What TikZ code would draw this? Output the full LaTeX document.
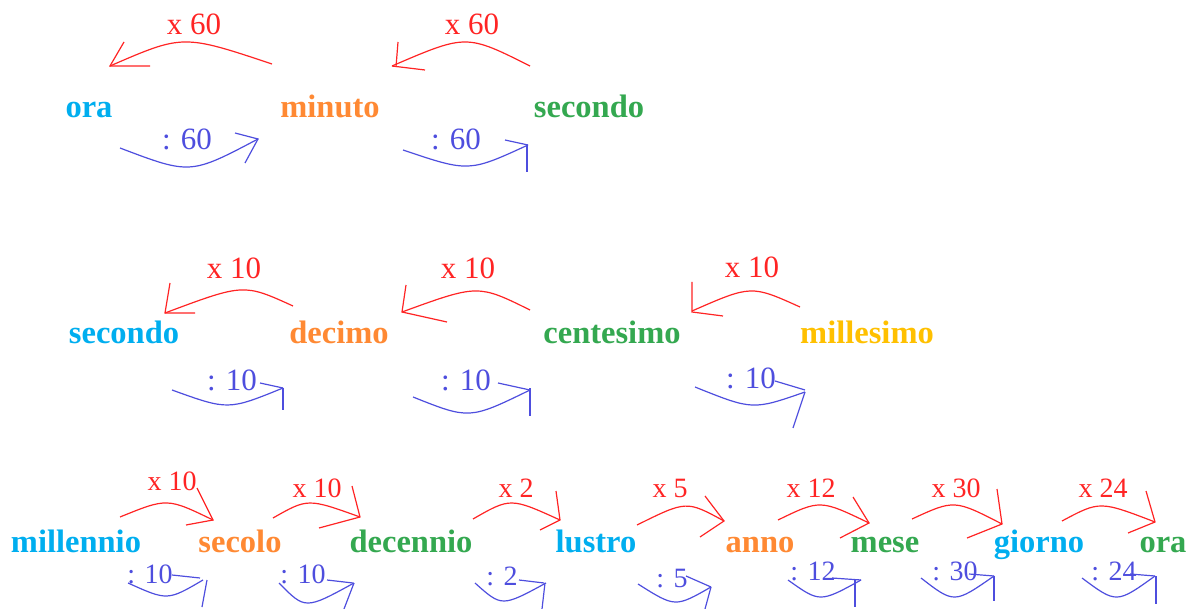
\documentclass[tikz,border=0pt]{standalone}
\usepackage{fontspec}
\setmainfont{Liberation Serif}
\definecolor{wblue}{RGB}{0,174,239}
\definecolor{worange}{RGB}{255,137,51}
\definecolor{wgreen}{RGB}{52,168,80}
\definecolor{wyellow}{RGB}{255,192,0}
\definecolor{lred}{RGB}{255,36,36}
\definecolor{lblue}{RGB}{78,78,222}
\begin{document}
\begin{tikzpicture}[x={(1pt,0pt)},y={(0pt,-1pt)},
  word/.style={font=\fontsize{32.5}{32.5}\selectfont\bfseries, inner sep=0pt, anchor=base},
  lab/.style={font=\fontsize{31}{31}\selectfont, inner sep=0pt, anchor=base},
  slab/.style={font=\fontsize{28}{28}\selectfont, inner sep=0pt, anchor=base},
  rl/.style={draw=lred, line width=1.2pt},
  bl/.style={draw=lblue, line width=1.2pt}]
\useasboundingbox (0,0) rectangle (1193,609);
% ---------- row 1 ----------
\node[word, text=wblue]   (ora1)    at (89,118)  {ora};
\node[word, text=worange] (minuto)  at (330,118) {minuto};
\node[word, text=wgreen]  (sec1)    at (589,118) {secondo};
\node[lab, text=lred]  (l1a) at (194,35) {x 60};
\node[lab, text=lred]  (l1b) at (472,35) {x 60};
\node[lab, text=lblue] (l1c) at (187,150) {: 60};
\node[lab, text=lblue] (l1d) at (456,150) {: 60};
\draw[rl] (272,64) .. controls (183,34.3) .. (110,66);
\draw[rl] (124,42) -- (110,66) -- (150,66);
\draw[rl] (530,66) .. controls (466.3,34) .. (392,66);
\draw[rl] (398,42) -- (396,67); \draw[rl] (392,66) -- (425,70);
\draw[bl] (120,148) .. controls (190.3,174.7) .. (258,139);
\draw[bl] (235,133) -- (258,139) -- (245,163);
\draw[bl] (403,150) .. controls (468.8,172.2) .. (528,145);
\draw[bl] (505,140) -- (528,145); \draw[bl] (527,145) -- (527,172);
% ---------- row 2 ----------
\node[word, text=wblue]   (sec2)  at (124,343) {secondo};
\node[word, text=worange] (dec)   at (339,343) {decimo};
\node[word, text=wgreen]  (cent)  at (612,343) {centesimo};
\node[word, text=wyellow] (mill)  at (867,343) {millesimo};
\node[lab, text=lred]  (l2a) at (234,279) {x 10};
\node[lab, text=lred]  (l2b) at (468,279) {x 10};
\node[lab, text=lred]  (l2c) at (752,278) {x 10};
\node[lab, text=lblue] (l2d) at (232,390) {: 10};
\node[lab, text=lblue] (l2e) at (466,390) {: 10};
\node[lab, text=lblue] (l2f) at (751,388) {: 10};
\draw[rl] (293,306) .. controls (243.7,283.5) .. (165,313);
\draw[rl] (170,283) -- (165,313) -- (195,313);
\draw[rl] (530,310) .. controls (478,284.3) .. (402,312);
\draw[rl] (406,285) -- (402,312) -- (447,322);
\draw[rl] (800,307) .. controls (751.3,285) .. (692,311);
\draw[rl] (692,282) -- (692,312) -- (723,316);
\draw[bl] (172,390) .. controls (228.2,410.3) .. (283,388);
\draw[bl] (260,383) -- (283,388); \draw[bl] (283,388) -- (283,410);
\draw[bl] (413,397) .. controls (469.5,419.5) .. (530,390);
\draw[bl] (498,383) -- (530,390); \draw[bl] (530,388) -- (530,416);
\draw[bl] (695,387) .. controls (752.7,410.2) .. (805,392);
\draw[bl] (775,381) -- (805,390); \draw[bl] (805,392) -- (793,428);
% ---------- row 3 ----------
\node[word, text=wblue]   (mln)   at (76,552)   {millennio};
\node[word, text=worange] (scl)   at (240,552)  {secolo};
\node[word, text=wgreen]  (dcn)   at (411,552)  {decennio};
\node[word, text=wblue]   (lus)   at (596,552)  {lustro};
\node[word, text=worange] (anno)  at (760,552)  {anno};
\node[word, text=wgreen]  (mese)  at (885,552)  {mese};
\node[word, text=wblue]   (gio)   at (1039,552) {giorno};
\node[word, text=wgreen]  (ora2)  at (1163,552) {ora};
\node[slab, text=lred] (r3a) at (172,490)  {x 10};
\node[slab, text=lred] (r3b) at (317,497)  {x 10};
\node[slab, text=lred] (r3c) at (516,497)  {x 2};
\node[slab, text=lred] (r3d) at (670,497)  {x 5};
\node[slab, text=lred] (r3e) at (811,497)  {x 12};
\node[slab, text=lred] (r3f) at (956,497)  {x 30};
\node[slab, text=lred] (r3g) at (1103,497) {x 24};
\node[slab, text=lblue] (b3a) at (150,583)  {: 10};
\node[slab, text=lblue] (b3b) at (303,583)  {: 10};
\node[slab, text=lblue] (b3c) at (502,585)  {: 2};
\node[slab, text=lblue] (b3d) at (672,587)  {: 5};
\node[slab, text=lblue] (b3e) at (813,580)  {: 12};
\node[slab, text=lblue] (b3f) at (955,580)  {: 30};
\node[slab, text=lblue] (b3g) at (1114,580) {: 24};
\draw[rl] (120,517) .. controls (167.2,497.8) .. (213,520);
\draw[rl] (197,488) -- (213,520) -- (186,525);
\draw[rl] (273,518) .. controls (307.8,498.2) .. (360,517);
\draw[rl] (352,486) -- (360,517) -- (319,528);
\draw[rl] (473,519) .. controls (510.5,497.5) .. (560,520);
\draw[rl] (556,491) -- (560,520) -- (540,530);
\draw[rl] (637,525) .. controls (686.5,500.5) .. (724,521);
\draw[rl] (705,496) -- (724,521) -- (700,537);
\draw[rl] (778,520) .. controls (820.2,499.5) .. (869,523);
\draw[rl] (853,497) -- (869,523) -- (840,538);
\draw[rl] (912,519) .. controls (954.3,499.5) .. (1002,524);
\draw[rl] (997,489) -- (1002,524) -- (967,538);
\draw[rl] (1062,521) .. controls (1099.8,500.8) .. (1155,522);
\draw[rl] (1146,491) -- (1155,522) -- (1128,533);
\draw[bl] (128,583) .. controls (167.5,600.8) .. (203,580);
\draw[bl] (172,575) -- (200,578); \draw[bl] (207,580) -- (202,607);
\draw[bl] (279,583) .. controls (305.2,609.7) .. (354,583);
\draw[bl] (327,580) -- (353,583); \draw[bl] (354,583) -- (344,609);
\draw[bl] (475,583) .. controls (501.8,607) .. (546,583);
\draw[bl] (519,580) -- (544,583); \draw[bl] (545,583) -- (542,609);
\draw[bl] (638,584) .. controls (675.2,607.5) .. (711,587);
\draw[bl] (686,576) -- (711,587); \draw[bl] (711,587) -- (705,609);
\draw[bl] (788,580) .. controls (819.8,602.7) .. (861,580);
\draw[bl] (832,578) -- (861,580); \draw[bl] (855,580) -- (855,607);
\draw[bl] (921,578) .. controls (954.2,603.7) .. (994,576);
\draw[bl] (969,574) -- (994,576); \draw[bl] (994,576) -- (994,601);
\draw[bl] (1082,578) .. controls (1116.5,603.7) .. (1155,576);
\draw[bl] (1130,574) -- (1155,576); \draw[bl] (1156,576) -- (1156,604);
\end{tikzpicture}
\end{document}
